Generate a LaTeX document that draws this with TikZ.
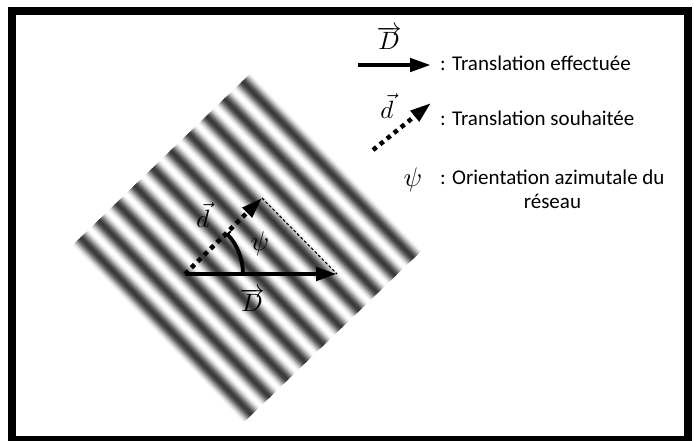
\documentclass[tikz,border=0pt]{standalone}
\usepackage{fontspec}
\setmainfont{Carlito}
\usetikzlibrary{arrows.meta}

\begin{document}
\begin{tikzpicture}[x=1pt, y=1pt,
    >={Triangle[length=21pt,width=13pt]},
    vecline/.style={line width=4.5pt, ->},
    dotline/.style={line width=4.5pt, dash pattern=on 4.5pt off 4.5pt, ->},
    sym/.style={scale=#1, transform shape, inner sep=0pt},
    sym/.default=2.5,
    lbl/.style={font=\fontsize{21}{24}\selectfont, anchor=base west, inner sep=0pt, align=center}]
  \useasboundingbox (0,0) rectangle (694,-441);
  \fill[white] (0,0) rectangle (694,-441);

  % grating, stripes along the -46 degree direction
  \begin{scope}[shift={(247,-248)}, rotate=44]
    \foreach \k in {0,...,9}{
      \foreach \j in {1,...,12}{
        \pgfmathsetmacro\w{25*(1-\j/13)}
        \pgfmathsetmacro\g{78*cos(90*\w/25)^2}
        \draw[line width=\w pt, black!\g] (-112.5+25*\k,-123) -- (-112.5+25*\k,123);
      }
    }
  \end{scope}

  \draw[line width=8pt] (12,-11) rectangle (688,-440);

  % vectors on the grating
  \coordinate (o) at (185,-274);
  \coordinate (Dtip) at (337,-274);
  \coordinate (dtip) at (262,-198);
  \draw[line width=1.1pt, dash pattern=on 3pt off 2pt] (dtip) -- (Dtip);
  \draw[dotline] (o) -- (dtip);
  \draw[vecline] (o) -- (Dtip);
  \draw[line width=3.8pt, -{Bar[width=9pt,line width=2pt]}] (o) ++(58,0) arc[start angle=0, end angle=44, radius=58];
  \node[sym] (dlab) at (203,-215) {$\vec{d}$};
  \node[sym=2.7] (psilab) at (260,-244) {$\psi$};
  \node[sym] (Dlab) at (252,-300) {$\overrightarrow{D}$};

  % legend
  \coordinate (legDs) at (358,-65);
  \coordinate (legDe) at (431,-65);
  \coordinate (legds) at (373,-150);
  \coordinate (legde) at (431,-103);
  \draw[vecline] (legDs) -- (legDe);
  \draw[dotline] (legds) -- (legde);
  \node[sym] (Dleg) at (389,-38) {$\overrightarrow{D}$};
  \node[sym] (dleg) at (387,-106) {$\vec{d}$};
  \node[sym=2.7] (psileg) at (413,-180) {$\psi$};
  \node[lbl] (t1) at (440,-71) {: Translation effectuée};
  \node[lbl] (t2) at (440,-126) {: Translation souhaitée};
  \node[lbl] (t3) at (440,-208) {: Orientation azimutale du\\réseau};
\end{tikzpicture}
\end{document}
